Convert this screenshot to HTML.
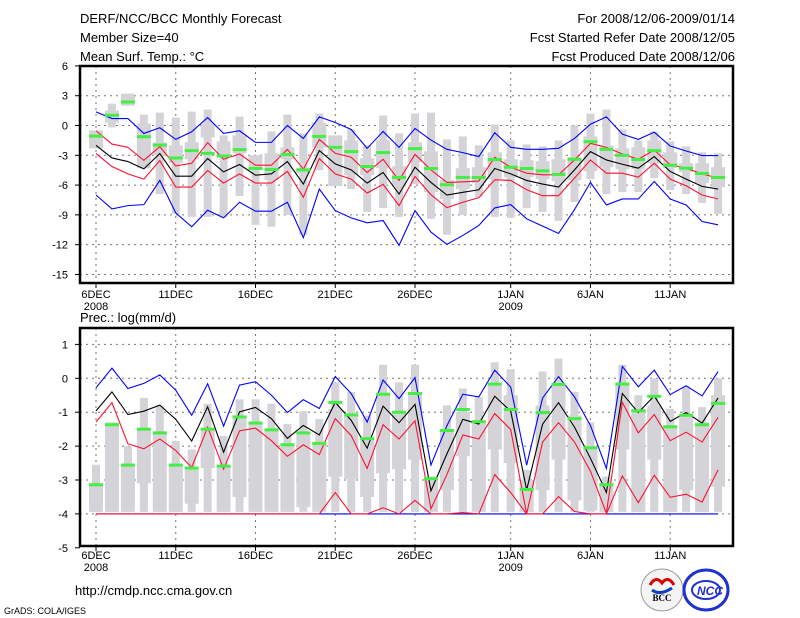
<!DOCTYPE html>
<html><head><meta charset="utf-8"><style>
body{margin:0;background:#fff}
svg{display:block;font-family:"Liberation Sans",sans-serif}
</style></head><body>
<svg id="c" width="800" height="618" viewBox="0 0 800 618" xmlns="http://www.w3.org/2000/svg">
<g font-size="13" fill="#000">
<text x="80" y="23">DERF/NCC/BCC Monthly Forecast</text>
<text x="80" y="42">Member Size=40</text>
<text x="80" y="61">Mean Surf. Temp.: °C</text>
<text x="735" y="23" text-anchor="end">For 2008/12/06-2009/01/14</text>
<text x="735" y="42" text-anchor="end">Fcst Started Refer Date 2008/12/05</text>
<text x="735" y="61" text-anchor="end">Fcst Produced Date 2008/12/06</text>
<text x="80" y="322">Prec.: log(mm/d)</text>
<text x="75" y="595">http://cmdp.ncc.cma.gov.cn</text>
<text x="4" y="614" font-size="9">GrADS: COLA/IGES</text>
</g>
<g>
<circle cx="662" cy="590" r="21" fill="#f4f4f4" stroke="#999"/>
<path d="M650 585 q6 -10 12 -2 q6 -8 12 2" stroke="#d00" stroke-width="3" fill="none"/>
<path d="M652 590 q8 6 20 -2" stroke="#1040c0" stroke-width="3" fill="none"/>
<text x="662" y="601" font-size="9" font-weight="bold" text-anchor="middle" font-family="Liberation Serif,serif">BCC</text>
</g>
<g>
<ellipse cx="706" cy="590" rx="22" ry="20" fill="none" stroke="#2030d0" stroke-width="3"/>
<ellipse cx="706" cy="590" rx="14" ry="9" fill="none" stroke="#2030d0" stroke-width="2"/>
<text x="710" y="595" font-size="12" font-weight="bold" fill="#2030d0" text-anchor="middle" font-style="italic">NCC</text>
</g>
</svg>
<script>
const days=['6DEC','11DEC','16DEC','21DEC','26DEC','1JAN','6JAN','11JAN'];
const dayIdx=[0,5,10,15,20,26,31,36];
const yearLabels=['2008','2009'];
const yearIdx=[0,26];
// Temperature
const tTicks=[6,3,0,-3,-6,-9,-12,-15];
const tBlueHi=[1.37,0.7,0.7,-0.8,-0.23,-1.4,-0.63,0.8,-0.8,-0.53,-1.7,-1.7,0,-1.3,0.87,0.3,-0.4,-2.3,-0.6,-2.2,-0.3,-1.47,-2.4,-2.73,-3.13,-0.73,-2.2,-2.4,-2.4,-2.3,-1.3,0.13,0.87,-0.87,-1.4,-0.67,-2.07,-2.57,-3.03,-3.03];
const tRedHi=[-0.53,-1.87,-2.2,-3.5,-2.13,-4.07,-3.8,-1.73,-3.4,-2.87,-4,-4,-2.4,-4.4,-1.4,-2.8,-3.2,-4.73,-3.4,-5.53,-2.9,-4.47,-5.73,-5.67,-5.6,-3.2,-4.2,-4.8,-4.97,-4.97,-3.47,-1.8,-2.2,-2.87,-3.4,-2.47,-3.97,-4.3,-4.87,-5.3];
const tMid=[-2,-3.27,-3.63,-4.37,-2.83,-5.1,-5.1,-3.33,-4.67,-3.93,-5,-4.87,-3.63,-5.9,-2.53,-3.87,-4.47,-5.8,-4.73,-6.9,-4.2,-5.73,-7,-6.73,-6.47,-4.33,-4.87,-5.53,-5.9,-6.2,-4.47,-2.63,-3.47,-3.9,-4.3,-3.13,-4.63,-5.4,-6.13,-6.4];
const tRedLo=[-2.83,-4.13,-4.87,-5.4,-3.53,-6.2,-6.2,-4.53,-5.8,-4.87,-5.8,-5.8,-4.63,-7.23,-3.33,-4.87,-5.4,-6.8,-5.93,-8.07,-5.13,-6.97,-8.27,-7.73,-7.27,-5.47,-5.53,-6.47,-7.07,-7.07,-5.3,-3.47,-4.8,-4.8,-5.2,-3.8,-5.4,-6.07,-7,-7.4];
const tBlueLo=[-7,-8.4,-8.07,-7.97,-5.53,-8.8,-10.2,-8.53,-9.3,-7.73,-8.63,-8.63,-7.73,-11.3,-6.4,-8.57,-9.3,-9.8,-9.57,-12.07,-8.57,-10.73,-11.97,-11.07,-10.07,-8.3,-7.97,-9.4,-10.13,-10.87,-8.47,-5.73,-8,-7.4,-7.4,-5.63,-7.4,-8,-9.67,-10];
const tMean=[-1.07,1.03,2.37,-1.13,-1.97,-3.27,-2.53,-2.8,-3.07,-2.43,-4.33,-4.43,-2.93,-4.47,-1.1,-2.2,-2.63,-4.13,-2.73,-5.23,-2.33,-4.33,-5.97,-5.23,-5.23,-3.43,-4.2,-4.33,-4.57,-4.93,-3.4,-1.63,-2.4,-3,-3.43,-2.53,-4,-4.3,-4.83,-5.23];
const tWhHi=[-0.5,2.2,3.2,1.1,1.3,0.8,1.4,1.6,-1,0.9,-3,-0.6,1.1,-0.8,1.2,-1,-0.4,-2,1,-0.8,1.2,1.3,-1.4,-1.1,-2,0.1,-1.5,-1.9,-2.1,-1.5,0,1.2,1.6,-0.4,-1.5,-0.6,-1.6,-2.1,-2.7,-2.8];
const tWhLo=[-2.3,-0.2,2,-4.3,-6.9,-8.9,-9.2,-9.2,-9.2,-7.1,-10,-10.2,-9,-11,-4.5,-6.1,-6.4,-8.7,-8.3,-9.2,-5.9,-9.4,-11,-9,-7.2,-9.2,-9.3,-8.3,-8.7,-9.6,-7.7,-5.4,-6.9,-6.7,-6.7,-5.3,-6.5,-6.9,-7.8,-8.9];
const tBoxHi=[-0.5,1.5,3.2,0.2,-1.7,-2,-1.7,0.2,-1.6,-1,-3,-2.8,-2.2,-4.3,0.3,-1,-1.5,-3.3,-1.5,-4.1,-1.7,-2.6,-5.5,-4.3,-4.2,-2.7,-3.4,-3.5,-3.6,-3.4,-3.2,-1.1,-2,-2.3,-2.2,-1.5,-2.7,-3.8,-3.8,-4.2];
const tBoxLo=[-2.3,0.3,2,-4.3,-3,-3.8,-3.4,-1.2,-3.2,-2.8,-4.5,-5.5,-3.4,-4.8,-2.2,-6.1,-5,-5,-4.3,-6.1,-3.7,-6.7,-7.4,-6.4,-5.8,-5.4,-5.2,-5.2,-5.4,-5.6,-5.5,-4.6,-4.2,-4.4,-4.4,-3.8,-4.3,-4.7,-5.8,-6.2];
// Precipitation
const pTicks=[1,0,-1,-2,-3,-4,-5];
const pBlueHi=[-0.28,0.3,-0.3,-0.15,0.1,-0.35,-1.09,-0.16,-1.41,-0.2,-0.1,-0.5,-1.01,-0.63,-0.89,0.05,-0.45,-1.29,-0.05,-0.6,0.02,-2.56,-1.4,-0.47,-0.55,0.24,-0.26,-2.56,-0.58,0.05,-0.55,-1.39,-2.66,0.35,-0.25,0.24,-0.48,-0.22,-0.52,0.2];
const pRedHi=[-1.29,-0.72,-1.93,-2.08,-1.79,-2.13,-2.63,-1.44,-2.68,-1.55,-1.47,-1.84,-2.3,-1.96,-2.25,-1.19,-1.69,-2.66,-1.37,-1.79,-1.25,-3.85,-2.84,-1.67,-1.79,-1.04,-1.51,-4,-1.88,-1.31,-1.88,-2.74,-3.98,-0.71,-1.61,-1.07,-1.84,-1.59,-1.88,-1.15];
const pMid=[-0.96,-0.4,-1.07,-0.97,-0.79,-1.21,-1.85,-0.84,-2.18,-0.99,-0.86,-1.19,-1.77,-1.39,-1.67,-0.71,-1.24,-2.06,-0.82,-1.31,-0.77,-3.32,-2.23,-1.21,-1.35,-0.53,-0.97,-3.29,-1.35,-0.72,-1.44,-2.36,-3.37,-0.45,-1.01,-0.52,-1.27,-1.01,-1.32,-0.58];
const pRedLo=[-4,-4,-4,-4,-4,-4,-4,-4,-4,-4,-4,-4,-4,-4,-4,-3.37,-4,-4,-3.82,-4,-3.6,-4,-4,-3.96,-4,-2.84,-3.37,-4,-4,-3.49,-3.93,-4,-4,-2.88,-3.67,-2.86,-3.51,-3.42,-3.65,-2.7];
const pBlueLo=[-4,-4,-4,-4,-4,-4,-4,-4,-4,-4,-4,-4,-4,-4,-4,-4,-4,-4,-4,-4,-4,-4,-4,-4,-4,-4,-4,-4,-4,-4,-4,-4,-4,-4,-4,-4,-4,-4,-4,-4];
const pMean=[-3.14,-1.37,-2.56,-1.5,-1.61,-2.56,-2.65,-1.5,-2.59,-1.14,-1.32,-1.52,-1.96,-1.61,-1.92,-0.71,-1.08,-1.78,-0.47,-1,-0.45,-2.96,-1.54,-0.92,-1.28,-0.17,-0.92,-3.28,-1.01,-0.18,-1.19,-2.05,-3.14,-0.17,-0.96,-0.53,-1.43,-1.09,-1.37,-0.74];
const pWhHi=[-2.55,-1.3,-2,-0.58,-0.8,-1.85,-2.1,-0.75,-1.7,-0.62,-0.62,-0.75,-1.35,-0.97,-1.2,-0.12,-0.4,-1.1,0.4,-0.12,0.4,-2.9,-0.8,-0.3,-0.55,0.47,0.27,-2.7,0.2,0.58,-0.4,-1.3,-2.9,0.4,-0.5,0,-0.9,-0.25,-0.85,0];
const pWhLo=[-3.94,-3.94,-3.94,-3.94,-3.94,-3.94,-3.94,-3.94,-3.94,-3.94,-3.94,-3.94,-3.94,-3.94,-3.94,-3.94,-3.94,-3.94,-3.94,-3.94,-3.94,-3.94,-3.94,-3.94,-3.94,-3.94,-3.94,-3.94,-3.94,-3.94,-3.94,-3.94,-3.94,-3.94,-3.94,-3.94,-3.94,-3.94,-3.94,-3.94];
const pBoxHi=[-3.1,-1.3,-2.6,-1.5,-1.6,-2.56,-2.7,-1.5,-2.6,-1.1,-1.3,-1.5,-2,-1.6,-1.9,-0.9,-1.1,-1.8,-0.5,-1,-0.5,-3,-1.5,-1,-1.3,-0.2,-0.5,-3,-0.8,-0.2,-1.1,-2,-3.1,-0.2,-0.9,-0.8,-1.4,-1.1,-1.3,-0.5];
const pBoxLo=[-3.94,-3.94,-3.94,-3.1,-3.94,-3.94,-3.7,-2.65,-3.94,-3.5,-3.94,-3.94,-3.94,-3.8,-3.94,-2.9,-2.97,-3.5,-2.8,-2.68,-2.4,-3.94,-3.3,-2.3,-3.94,-2.1,-2.5,-3.94,-3.3,-2.4,-3.6,-3.9,-3.94,-2.1,-3.94,-2.4,-3.94,-3.3,-3.94,-3.2];

const NS='http://www.w3.org/2000/svg';
const svg=document.getElementById('c');
function mk(tag,attrs,parent){const e=document.createElementNS(NS,tag);for(const k in attrs)e.setAttribute(k,attrs[k]);(parent||svg).appendChild(e);return e;}
const X=i=>96+15.95*i;
const X0=80,X1=733;

function panel(name,top,bottom,vTop,vBot,y0,ppu,ticks,hi2,lo2,boxHi,boxLo,mean,bHi,rHi,mid,rLo,bLo,labY){
  const Y=v=>y0-ppu*v;
  const g=mk('g',{});
  
  
  // grid
  ticks.forEach(t=>{const y=Y(t);if(y>top+1&&y<bottom-1){const l=mk('line',{x1:X0,x2:X1,y1:y,y2:y,stroke:'#777','stroke-dasharray':'2,4','stroke-width':1},g);}
    const tk=mk('line',{x1:X0-5,x2:X0,y1:y,y2:y,stroke:'#000'},g);
    const tx=mk('text',{x:X0-12,y:y+4,'font-size':11,'text-anchor':'end'},g);tx.textContent=t;});
  dayIdx.forEach((d,k)=>{const x=X(d);
    const l=mk('line',{x1:x,x2:x,y1:top,y2:bottom,stroke:'#777','stroke-dasharray':'2,4'},g);
    const tk=mk('line',{x1:x,x2:x,y1:bottom,y2:bottom+5,stroke:'#000'},g);
    const tx=mk('text',{x:x,y:labY,'font-size':11,'text-anchor':'middle'},g);tx.textContent=days[k];});
  yearIdx.forEach((d,k)=>{const tx=mk('text',{x:X(d),y:labY+12,'font-size':11,'text-anchor':'middle'},g);tx.textContent=yearLabels[k];});
  // boxes
  hi2.forEach((h,i)=>{const x=X(i);
    const w=mk('rect',{x:x-4,y:Y(h),width:8,height:Math.max(1,Y(lo2[i])-Y(h)),fill:'#d4d4d8'},g);
    const b=mk('rect',{x:x-7,y:Y(boxHi[i]),width:14,height:Math.max(1,Y(boxLo[i])-Y(boxHi[i])),fill:'#d4d4d8'},g);});
  const line=(arr,col,nm)=>{const p=mk('polyline',{points:arr.map((v,i)=>X(i)+','+Y(v)).join(' '),fill:'none',stroke:col,'stroke-width':1.1},g);};
  line(bLo,'#0000ff','min-line');line(rLo,'#ff1030','lower-line');line(bHi,'#0000ff','max-line');line(rHi,'#ff1030','upper-line');line(mid,'#000','median-line');
  mean.forEach((m,i)=>{const r=mk('rect',{x:X(i)-7,y:Y(m)-1.5,width:14,height:3,fill:'#44ee44'},g);});
  const f=mk('rect',{x:X0,y:top,width:X1-X0,height:bottom-top,fill:'none',stroke:'#000','stroke-width':2.5},g);
}
panel('temperature-panel',66,283,6,-15.8,125.5,9.93,tTicks,tWhHi,tWhLo,tBoxHi,tBoxLo,tMean,tBlueHi,tRedHi,tMid,tRedLo,tBlueLo,298);
panel('precip-panel',328,546,1.5,-5,378.3,33.9,pTicks,pWhHi,pWhLo,pBoxHi,pBoxLo,pMean,pBlueHi,pRedHi,pMid,pRedLo,pBlueLo,559);
</script>
</body></html>
